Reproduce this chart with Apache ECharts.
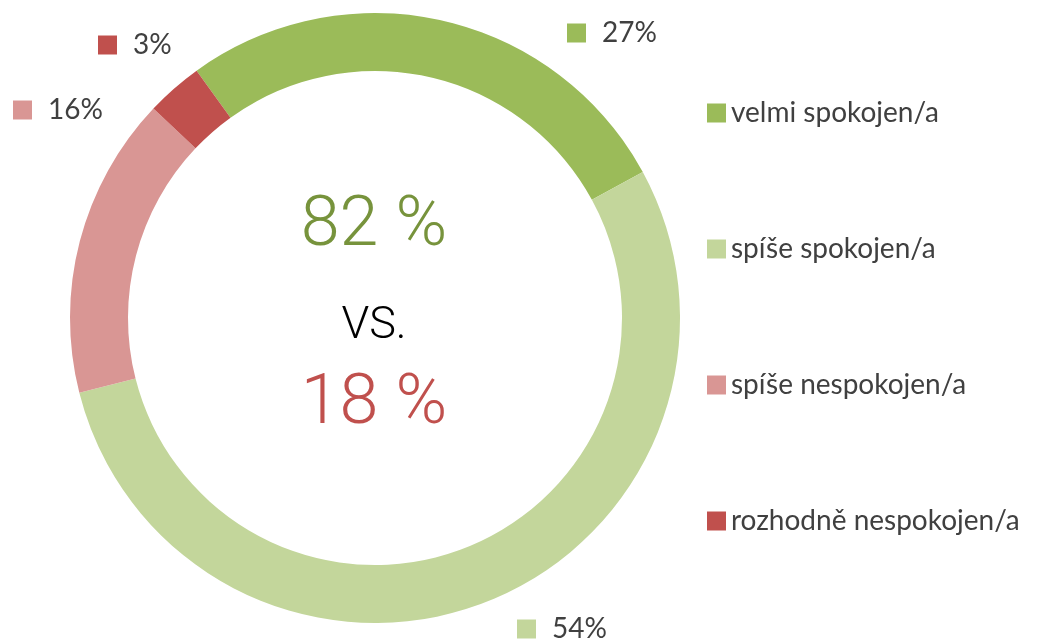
<!DOCTYPE html>
<html>
<head>
<meta charset="utf-8">
<script src="https://cdn.jsdelivr.net/npm/echarts@6/dist/echarts.min.js"></script>
<style>
html,body{margin:0;padding:0;background:#fff;}
#chart{width:1038px;height:644px;}
</style>
</head>
<body>
<div id="chart"></div>
<script>
// Data
const categories = ['velmi spokojen/a', 'spíše spokojen/a', 'spíše nespokojen/a', 'rozhodně nespokojen/a'];
const values = [27, 54, 16, 3];
const centerTop = '82 %';
const centerMid = 'VS.';
const centerBottom = '18 %';

// Styles
const colors = ['#9BBB59', '#C3D69B', '#D99694', '#C0504D'];
const labelPos = [[567, 33], [517, 629], [13, 110], [98, 45]];

const chart = echarts.init(document.getElementById('chart'), null, {renderer: 'canvas'});

const rich = { v: { fontFamily: 'Lato', fontSize: 28, color: '#404040', padding: [0, 0, 0, 16] } };
colors.forEach((c, i) => { rich['m' + i] = { width: 19, height: 19, backgroundColor: c }; });

chart.setOption({
  animation: false,
  color: colors,
  legend: {
    orient: 'vertical',
    left: 702,
    top: 92,
    itemWidth: 19,
    itemHeight: 19,
    itemGap: 104,
    icon: 'rect',
    selectedMode: false,
    data: categories,
    textStyle: { fontFamily: 'Lato', fontSize: 28, color: '#404040', lineHeight: 32 }
  },
  graphic: [
    { type: 'text', style: { text: centerTop, x: 374, y: 227, textAlign: 'center', textVerticalAlign: 'middle', fontFamily: 'Roboto', fontWeight: 300, fontSize: 70, fill: '#77933C' } },
    { type: 'text', style: { text: centerMid, x: 374, y: 327, textAlign: 'center', textVerticalAlign: 'middle', fontFamily: 'Roboto', fontWeight: 300, fontSize: 45, fill: '#000000' } },
    { type: 'text', style: { text: centerBottom, x: 374, y: 405, textAlign: 'center', textVerticalAlign: 'middle', fontFamily: 'Roboto', fontWeight: 300, fontSize: 70, fill: '#C0504D' } }
  ],
  series: [{
    type: 'pie',
    center: [375, 318],
    radius: [247, 305],
    startAngle: 125.8,
    clockwise: true,
    avoidLabelOverlap: false,
    emphasis: { disabled: true },
    labelLine: { show: false },
    label: {
      show: true,
      position: 'outside',
      formatter: p => '{m' + p.dataIndex + '|}{v|' + p.value + '%}',
      rich: rich
    },
    labelLayout: function (params) {
      const p = labelPos[params.dataIndex];
      return { x: p[0], y: p[1], align: 'left', verticalAlign: 'middle' };
    },
    data: categories.map((c, i) => ({ name: c, value: values[i] }))
  }]
});
</script>
</body>
</html>
